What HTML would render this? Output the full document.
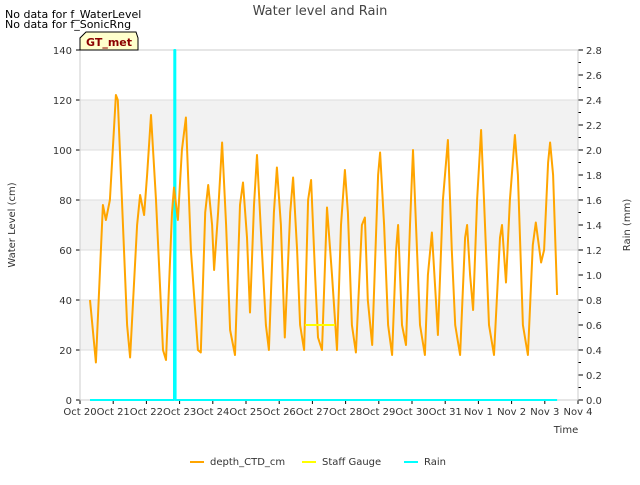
<!DOCTYPE html>
<html><head><meta charset="utf-8"><style>
body{margin:0;background:#fff;font-family:"Liberation Sans","DejaVu Sans",sans-serif}
</style></head><body>
<svg id="chart" width="640" height="480" xmlns="http://www.w3.org/2000/svg" font-family="DejaVu Sans, Liberation Sans, sans-serif">
<text x="320" y="15" text-anchor="middle" font-size="13" fill="#444">Water level and Rain</text>
<text x="5" y="18" font-size="11" fill="#000">No data for f_WaterLevel</text>
<text x="5" y="28" font-size="11" fill="#000">No data for f_SonicRng</text>
<g id="bands"></g>
<g id="axes"></g>
<g id="series"></g>
<g>
<path d="M80,50 L80,38 L86,32 L136,32 L138,38 L138,50 Z" fill="#ffffcc" stroke="#000"/>
<text x="109" y="46" text-anchor="middle" font-size="11" font-weight="bold" fill="#8b0000">GT_met</text>
</g>
<text x="15" y="225" font-size="10" fill="#333" transform="rotate(-90 15 225)" text-anchor="middle">Water Level (cm)</text>
<text x="630" y="225" font-size="10" fill="#333" transform="rotate(-90 630 225)" text-anchor="middle">Rain (mm)</text>
<text x="566" y="433" font-size="10" fill="#333" text-anchor="middle">Time</text>
<g>
<g><line x1="190" y1="462" x2="204" y2="462" stroke="orange" stroke-width="2"/><text x="210" y="465" font-size="10" fill="#333">depth_CTD_cm</text></g>
<g><line x1="302" y1="462" x2="316" y2="462" stroke="#ffff00" stroke-width="2"/><text x="322" y="465" font-size="10" fill="#333">Staff Gauge</text></g>
<g><line x1="404" y1="462" x2="418" y2="462" stroke="cyan" stroke-width="2"/><text x="424" y="465" font-size="10" fill="#333">Rain</text></g>
</g>
</svg>
<script>
const xTickLabels=["Oct 20","Oct 21","Oct 22","Oct 23","Oct 24","Oct 25","Oct 26","Oct 27","Oct 28","Oct 29","Oct 30","Oct 31","Nov 1","Nov 2","Nov 3","Nov 4"];
const yTicks=[0,20,40,60,80,100,120,140];
const y2Ticks=[0,0.2,0.4,0.6,0.8,1.0,1.2,1.4,1.6,1.8,2.0,2.2,2.4,2.6,2.8];
const depthDays=[0.30,0.48,0.69,0.78,0.90,1.08,1.14,1.42,1.51,1.72,1.81,1.93,2.02,2.14,2.29,2.50,2.59,2.77,2.83,2.95,3.07,3.19,3.34,3.55,3.64,3.77,3.86,3.98,4.04,4.16,4.28,4.40,4.52,4.67,4.82,4.91,5.03,5.12,5.24,5.33,5.48,5.60,5.69,5.84,5.93,6.05,6.17,6.33,6.42,6.54,6.63,6.75,6.87,6.96,7.08,7.17,7.29,7.44,7.59,7.74,7.86,7.98,8.07,8.19,8.31,8.49,8.58,8.67,8.80,8.98,9.04,9.16,9.28,9.40,9.52,9.58,9.70,9.82,9.94,10.03,10.15,10.24,10.39,10.48,10.60,10.72,10.78,10.93,11.08,11.20,11.30,11.45,11.60,11.66,11.75,11.84,11.96,12.08,12.17,12.32,12.47,12.65,12.71,12.83,12.95,13.10,13.19,13.34,13.49,13.64,13.73,13.89,13.98,14.10,14.16,14.25,14.37];
const depthValues=[40,15,78,72,80,122,120,30,17,70,82,74,90,114,80,20,16,75,85,72,100,113,60,20,19,75,86,70,52,75,103,70,28,18,78,87,65,35,78,98,60,30,20,75,93,70,25,75,89,60,30,20,80,88,50,25,20,77,50,20,70,92,75,30,19,70,73,40,22,90,99,70,30,18,60,70,30,22,70,100,60,30,18,50,67,40,26,80,104,60,30,18,65,70,50,36,80,108,80,30,18,65,70,47,80,106,90,30,18,62,71,55,60,95,103,90,42];
const staffDays=[6.78,7.68];
const staffValues=[30,30];
const rainDays=[0.30,2.83,2.84,2.87,2.88,14.37];
const rainValues=[0,0,2.8,2.8,0,0];

const NS="http://www.w3.org/2000/svg";
const L=80,R=578,T=50,B=400;
const xs=d=>L+(R-L)*d/15;
const ys=v=>B-(B-T)*v/140;
const y2=v=>B-(B-T)*v/2.8;
function mk(tag,attrs,parent){const e=document.createElementNS(NS,tag);for(const k in attrs)e.setAttribute(k,attrs[k]);parent.appendChild(e);return e;}
const bands=document.getElementById('bands'),axes=document.getElementById('axes'),series=document.getElementById('series');
for(let i=0;i<yTicks.length-1;i++){
  if(i%2===1){const r=mk('rect',{x:L,y:ys(yTicks[i+1]),width:R-L,height:ys(yTicks[i])-ys(yTicks[i+1]),fill:'#f2f2f2'},bands);
  
  }
}
yTicks.forEach(v=>{
  const g=mk('line',{x1:L,x2:R,y1:ys(v),y2:ys(v),stroke:'#ddd'},bands);
  
  
  mk('line',{x1:L-4,x2:L,y1:ys(v),y2:ys(v),stroke:'#000'},axes);
  const t=mk('text',{x:L-8,y:ys(v)+4,'text-anchor':'end','font-size':10,fill:'#333'},axes);t.textContent=v;
  
  
});
for(let k=0;k<=28;k++){const v=k/10;mk('line',{x1:R,x2:R+(k%2?3:5),y1:y2(v),y2:y2(v),stroke:'#000'},axes);}
y2Ticks.forEach(v=>{const t=mk('text',{x:R+8,y:y2(v)+4,'font-size':10,fill:'#333'},axes);t.textContent=v.toFixed(1);
  
  });
xTickLabels.forEach((s,i)=>{
  mk('line',{x1:xs(i),x2:xs(i),y1:B,y2:B+4,stroke:'#000'},axes);
  const t=mk('text',{x:xs(i),y:B+15,'text-anchor':'middle','font-size':10,fill:'#333'},axes);t.textContent=s;
  
  
});
mk('rect',{x:L,y:T,width:R-L,height:B-T,fill:'none',stroke:'#ccc'},axes);
function path(days,vals,sc,color,w,name){
  const d=days.map((x,i)=>(i?'L':'M')+xs(x).toFixed(1)+','+sc(vals[i]).toFixed(1)).join(' ');
  const p=mk('path',{d:d,fill:'none',stroke:color,'stroke-width':w,'stroke-linejoin':'round'},series);
  
  
}
path(rainDays,rainValues,y2,'cyan',2,'rain-line');
path(depthDays,depthValues,ys,'orange',2,'depth-ctd-line');
path(staffDays,staffValues,ys,'#ffff00',2,'staff-gauge-line');
</script>
</body></html>
